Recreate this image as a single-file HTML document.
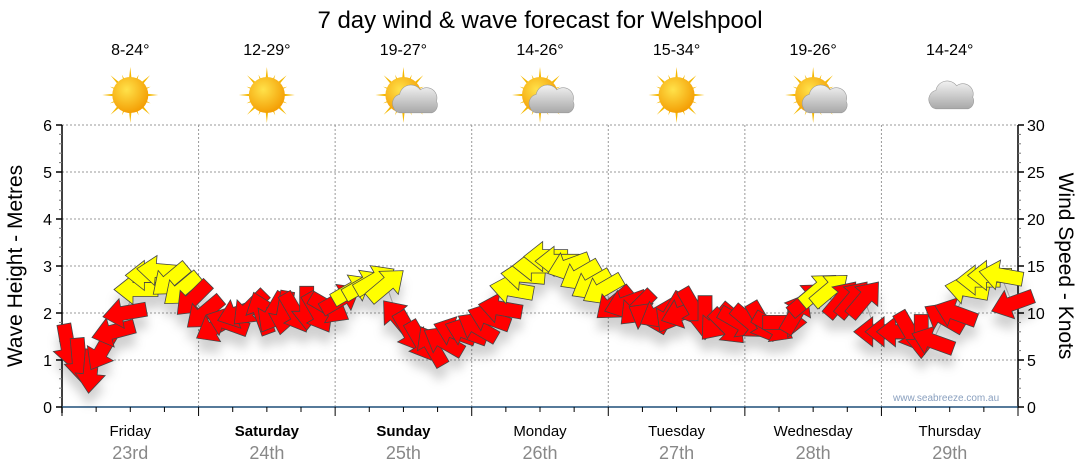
<!DOCTYPE html>
<html><head><meta charset="utf-8"><style>
body{margin:0;background:#fff;}
svg{display:block;font-family:"Liberation Sans",sans-serif;}
</style></head><body>
<svg id="chart" width="1080" height="475" viewBox="0 0 1080 475">
<defs>
<filter id="sh" x="-50%" y="-50%" width="200%" height="250%"><feDropShadow dx="0" dy="12" stdDeviation="5" flood-color="#000" flood-opacity="0.18"/></filter>
<radialGradient id="sunG" cx="0.4" cy="0.35" r="0.7"><stop offset="0" stop-color="#ffe24a"/><stop offset="1" stop-color="#f39a00"/></radialGradient>
<linearGradient id="cloudG" x1="0" y1="0" x2="0" y2="1"><stop offset="0" stop-color="#f2f2f2"/><stop offset="1" stop-color="#a8a8a8"/></linearGradient>
</defs>
<text x="540" y="28" text-anchor="middle" font-size="24" fill="#000">7 day wind &amp; wave forecast for Welshpool</text>
<g id="grid"></g><g id="axes"></g><g id="weather"></g><g id="marks"></g>
<text x="893" y="401" font-size="10" fill="#8aa0bf">www.seabreeze.com.au</text>
<text transform="translate(22,266) rotate(-90)" text-anchor="middle" font-size="21">Wave Height - Metres</text>
<text transform="translate(1059,266) rotate(90)" text-anchor="middle" font-size="21">Wind Speed - Knots</text>
</svg>
<script>
const days=["Friday","Saturday","Sunday","Monday","Tuesday","Wednesday","Thursday"];
const dates=["23rd","24th","25th","26th","27th","28th","29th"];
const boldDays=[false,true,true,false,false,false,false];
const temps=["8-24°","12-29°","19-27°","14-26°","15-34°","19-26°","14-24°"];
const icons=["sun","sun","partly","partly","sun","partly","cloud"];
const waveTicks=[0,1,2,3,4,5,6];
const knotTicks=[0,5,10,15,20,25,30];
const windSpeed=[6.5,5,3.8,6,8,10,12.5,14,14.5,13.5,12.5,11.5,
10,8.5,9,10,10.5,10,10,10,10,10.5,10,10.5,
11.5,12.5,13,13.5,13,9.5,8,7,6.5,7,8,8,
8.5,9.5,10.5,12.5,14,15,16,15.5,15,14,13,12.5,
11,11,10.5,9.5,10,10,10,10.5,9.5,9,8.5,9,
9,9,8.5,9,10,11.5,12.5,12.5,11.5,11.5,11.5,8,
8,8,8,7.5,7,9.5,10,12.5,13.5,14,14,11];
const windDir=[80,85,95,120,165,170,180,180,185,140,140,135,
140,150,200,160,135,250,120,100,60,90,60,30,
330,330,330,330,320,230,60,60,240,210,200,200,
210,200,190,190,185,180,180,180,160,150,150,150,
140,160,135,210,150,120,160,60,90,130,45,30,
40,60,30,0,300,320,320,320,310,310,310,180,
180,180,60,90,200,210,200,190,180,180,190,160];
const NS="http://www.w3.org/2000/svg";
const X0=62,X1=1018,Y0=407,Y1=125;
const xH=h=>X0+(h/168)*(X1-X0);
const yM=m=>Y0-(m/6)*(Y0-Y1);
const yK=k=>Y0-(k/30)*(Y0-Y1);
function mk(tag,attrs,parent){const e=document.createElementNS(NS,tag);for(const k in attrs)e.setAttribute(k,attrs[k]);parent.appendChild(e);return e;}
const grid=document.getElementById('grid'),axes=document.getElementById('axes'),weather=document.getElementById('weather'),marks=document.getElementById('marks');
waveTicks.forEach(m=>{if(m>0){const l=mk('line',{x1:X0,x2:X1,y1:yM(m),y2:yM(m),stroke:'#999','stroke-dasharray':'2,2','stroke-width':1},grid);

}});
for(let d=1;d<7;d++){const l=mk('line',{x1:xH(d*24),x2:xH(d*24),y1:Y1,y2:Y0,stroke:'#999','stroke-dasharray':'2,2'},grid);

}
mk('line',{x1:X0,x2:X0,y1:Y1,y2:Y0+6,stroke:'#000','stroke-width':1.5},axes);
mk('line',{x1:X1,x2:X1,y1:Y1,y2:Y0,stroke:'#000','stroke-width':1.5},axes);
mk('line',{x1:X0,x2:X1,y1:Y0,y2:Y0,stroke:'#1f4e79','stroke-width':1.5},axes);
for(let i=0;i<=30;i++){const m=i*0.2,y=yM(m),major=i%5==0;
mk('line',{x1:X0-(major?6:3),x2:X0,y1:y,y2:y,stroke:major?'#000':'#777','stroke-width':major?1.5:1},axes);}
waveTicks.forEach(m=>{const t=mk('text',{x:X0-10,y:yM(m)+6,'text-anchor':'end','font-size':16},axes);t.textContent=m;

});
for(let k=0;k<=30;k++){const y=yK(k),major=k%5==0;
mk('line',{x1:X1,x2:X1+(major?6:3),y1:y,y2:y,stroke:major?'#000':'#777','stroke-width':major?1.5:1},axes);}
knotTicks.forEach(k=>{const t=mk('text',{x:X1+9,y:yK(k)+6,'font-size':16},axes);t.textContent=k;

});
for(let h=0;h<=168;h+=6){const x=xH(h),major=h%24==0;
mk('line',{x1:x,x2:x,y1:Y0,y2:Y0+(major?9:5),stroke:'#000','stroke-width':1},axes);}
days.forEach((d,i)=>{const cx=xH(i*24+12);
const t=mk('text',{x:cx,y:436,'text-anchor':'middle','font-size':15,'font-weight':boldDays[i]?'bold':'normal'},axes);t.textContent=d;


const t2=mk('text',{x:cx,y:459,'text-anchor':'middle','font-size':18,fill:'#888'},axes);t2.textContent=dates[i];


const tt=mk('text',{x:cx,y:55,'text-anchor':'middle','font-size':16},weather);tt.textContent=temps[i];


const g=mk('g',{transform:`translate(${cx},95)`},weather);


if(icons[i]!='cloud'){
 for(let r=0;r<16;r++){const a=r*22.5,L=r%2?22:28;mk('polygon',{points:`-3,0 0,-${L} 3,0`,fill:'#f5b800',transform:`rotate(${a})`},g);}
 mk('circle',{r:18,fill:'url(#sunG)'},g);
}
if(icons[i]!='sun'){const o=icons[i]=='cloud'?{x:0,y:0}:{x:10,y:4};
 const cg=mk('g',{transform:`translate(${o.x},${o.y}) scale(1.15)`},g);
 mk('path',{d:'M-17,8 A8,8 0 0 1 -12,-4 A10,10 0 0 1 6,-8 A9,9 0 0 1 20,2 A7,7 0 0 1 16,12 L-12,12 A6,6 0 0 1 -17,8 Z',fill:'url(#cloudG)',stroke:'#999','stroke-width':0.5},cg);}
});
const pts=windSpeed.map((s,i)=>[xH((i+0.5)*2),yK(s)]);
const ln=mk('polyline',{points:pts.map(p=>p.join(',')).join(' '),fill:'none',stroke:'#bbb','stroke-width':1},marks);


const ag=mk('g',{filter:'url(#sh)'},marks);
windSpeed.forEach((s,i)=>{const [x,y]=pts[i];
 const a=mk('polygon',{points:'-22,-7 3,-7 3,-15 22,0 3,15 3,7 -22,7',fill:s>12?'#ffff00':'#ff0000',stroke:'#444','stroke-width':0.8,transform:`translate(${x},${y}) rotate(${windDir[i]})`},ag);
 
 
});
</script>
</body></html>
